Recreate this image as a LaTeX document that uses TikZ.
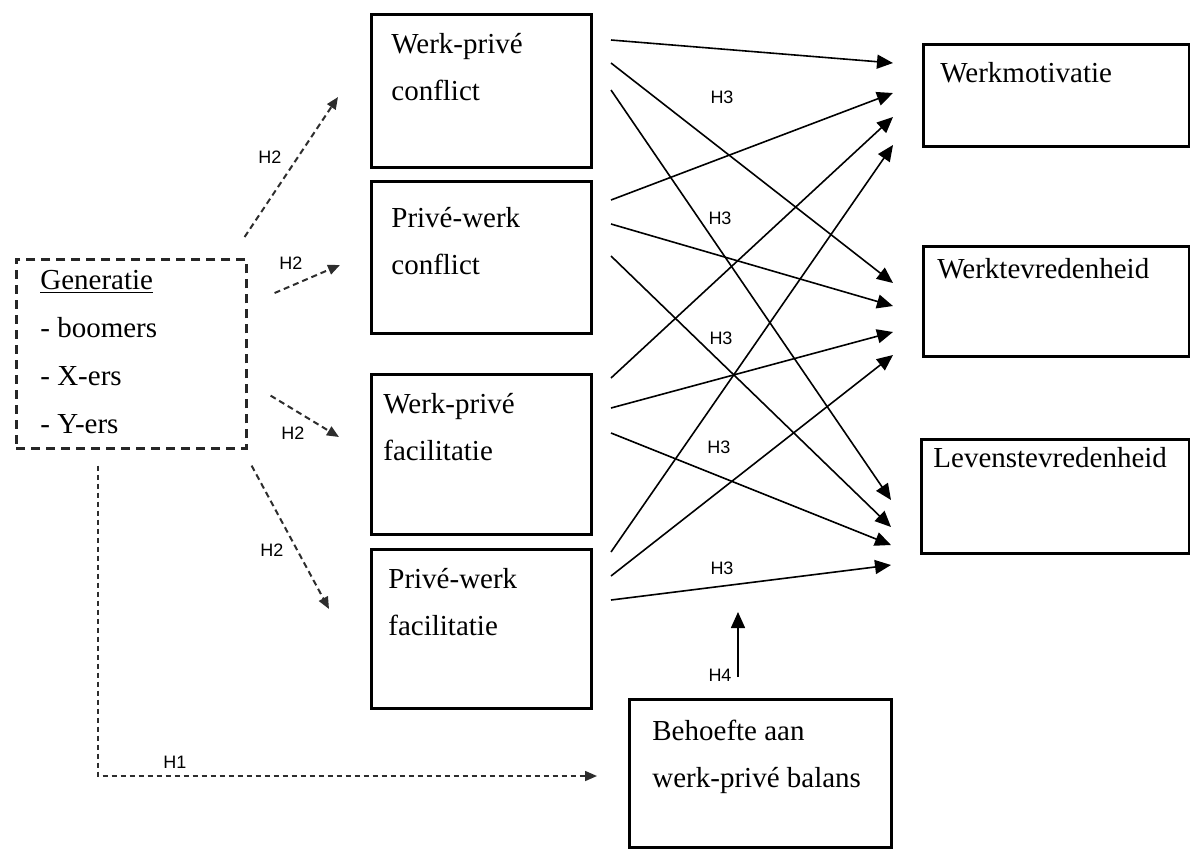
\documentclass[tikz,border=0pt]{standalone}
\usepackage{fontspec}
\setmainfont{Liberation Serif}
\newfontfamily\hfont{Liberation Sans}
\usetikzlibrary{arrows.meta}

\begin{document}
\begin{tikzpicture}[x=0.5pt,y=-0.5pt]
    \tikzstyle{box}=[draw, line width=1.5pt, anchor=north west, inner sep=0pt, minimum width=110pt]
    \tikzstyle{boxtext}=[anchor=north west, align=left, inner sep=0pt, font=\fontsize{14.5}{23.5}\selectfont]
    \tikzstyle{hyp}=[font=\hfont\fontsize{9}{10}\selectfont]
    \tikzstyle{arr}=[line width=0.8pt, -{Triangle[length=8pt,width=7pt]}]
    \tikzstyle{dasharr}=[line width=1pt, gray!35!black, dash pattern=on 3pt off 2pt, -{Triangle[length=6pt,width=5pt]}]
    \tikzstyle{longdash}=[line width=0.8pt, gray!35!black, dash pattern=on 2.5pt off 2pt, -{Triangle[length=6pt,width=5pt]}]

    \useasboundingbox (0,0) rectangle (1190,848);

    \node[box, draw=gray!30!black, dash pattern=on 4.5pt off 3pt, line width=1.3pt, minimum width=115pt, minimum height=94.5pt,
          label={[boxtext, font=\fontsize{14.5}{24}\selectfont, xshift=12.5pt, yshift=-6pt]north west:\underline{Generatie}\\- boomers\\- X-ers\\- Y-ers}] (gen) at (15,258) {};

    \node[box, minimum height=76.5pt, label={[boxtext, xshift=10.5pt, yshift=-10pt]north west:Werk-privé\\conflict}] (wpc) at (370,13) {};
    \node[box, minimum height=76pt, label={[boxtext, xshift=10.5pt, yshift=-13.5pt]north west:Privé-werk\\conflict}] (pwc) at (370,180) {};
    \node[box, minimum height=80pt, label={[boxtext, xshift=6.5pt, yshift=-10pt]north west:Werk-privé\\facilitatie}] (wpf) at (370,373) {};
    \node[box, minimum height=79.5pt, label={[boxtext, xshift=9pt, yshift=-10pt]north west:Privé-werk\\facilitatie}] (pwf) at (370,548) {};

    \node[box, minimum width=133pt, minimum height=51pt, label={[boxtext, xshift=9pt, yshift=-9.5pt]north west:Werkmotivatie}] (mot) at (922,43) {};
    \node[box, minimum width=133pt, minimum height=55pt, label={[boxtext, xshift=7.5pt, yshift=-6.5pt]north west:Werktevredenheid}] (tev) at (922,245) {};
    \node[box, minimum width=134pt, minimum height=57pt, label={[boxtext, xshift=6.5pt, yshift=-4.5pt]north west:Levenstevredenheid}] (lev) at (920,438) {};

    \node[box, minimum width=131pt, minimum height=74pt, label={[boxtext, xshift=12pt, yshift=-11pt]north west:Behoefte aan\\werk-privé balans}] (beh) at (628,698) {};

    \foreach \src/\sy/\dst/\dy in {wpc/13.5/mot/10, wpc/25/tev/19, wpc/38.5/lev/31,
                                   pwc/10/mot/25, pwc/22/tev/30.5, pwc/38/lev/44.5,
                                   wpf/2.5/mot/37, wpf/17.5/tev/43.5, wpf/30/lev/53.5,
                                   pwf/2/mot/51, pwf/14/tev/55, pwf/26/lev/63.5}
        \draw[arr] ([xshift=9pt,yshift=-\sy pt]\src.north east) -- ([xshift=-14.5pt,yshift=-\dy pt]\dst.north west);

    \node[hyp] (h3a) at (722,97) {H3};
    \node[hyp] (h3b) at (720,218) {H3};
    \node[hyp] (h3c) at (721,338) {H3};
    \node[hyp] (h3d) at (719,447) {H3};
    \node[hyp] (h3e) at (722,568) {H3};

    \draw[dasharr] ([xshift=-1.5pt,yshift=10.5pt]gen.north east) -- ([xshift=-16pt,yshift=-42pt]wpc.north west);
    \draw[dasharr] ([xshift=13.5pt,yshift=-17.5pt]gen.north east) -- ([xshift=-15pt,yshift=-42.5pt]pwc.north west);
    \draw[dasharr] ([xshift=11.5pt,yshift=27pt]gen.south east) -- ([xshift=-15.5pt,yshift=-32pt]wpf.north west);
    \draw[dasharr] ([xshift=2pt,yshift=-8pt]gen.south east) -- ([xshift=-20.5pt,yshift=-30.5pt]pwf.north west);

    \node[hyp] (h2a) at (270,157) {H2};
    \node[hyp] (h2b) at (291,263) {H2};
    \node[hyp] (h2c) at (293,433) {H2};
    \node[hyp] (h2d) at (272,550) {H2};

    \draw[longdash] ([xshift=41.5pt,yshift=-8pt]gen.south west) |- ([xshift=-15.5pt,yshift=-39pt]beh.north west);
    \node[hyp] (h1) at (175,762) {H1};

    \coordinate (h4tip) at (738,612);
    \draw[arr] ([xshift=55pt,yshift=10.5pt]beh.north west) -- (h4tip);
    \node[hyp] (h4) at (720,675) {H4};

\end{tikzpicture}
\end{document}
